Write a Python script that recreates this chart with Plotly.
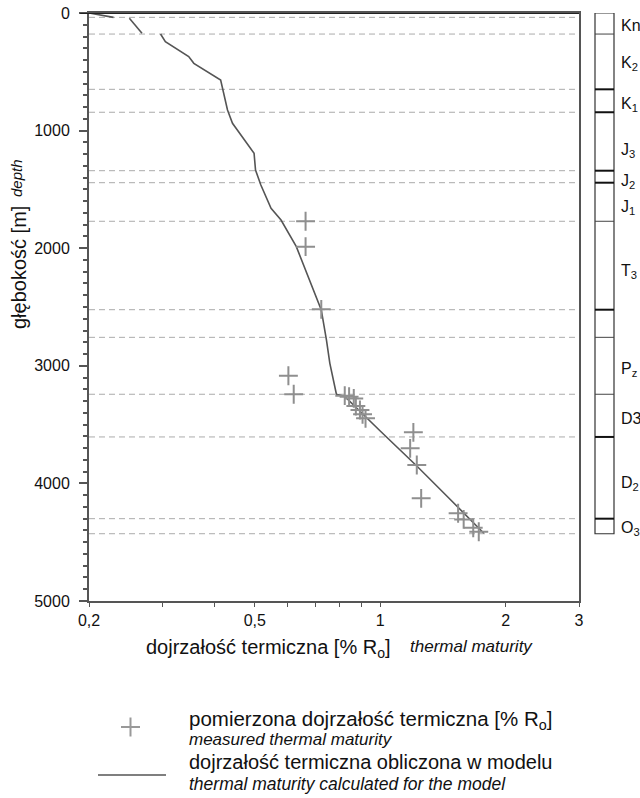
import plotly.graph_objects as go

# ---------------- data ----------------
model_ro = [0.200, 0.229, None, 0.250, 0.268, None, 0.297, 0.305, 0.347, 0.357, 0.414, 0.418,
            0.430, 0.442, 0.498, 0.502, 0.517, 0.547, 0.578, 0.629, 0.716, 0.722, 0.743, 0.757,
            0.785, 0.822, 1.00, 1.224, 1.473, 1.773]
model_depth = [0, 37, None, 45, 173, None, 179, 244, 371, 428, 570, 641, 825, 938, 1193, 1335,
               1463, 1661, 1760, 1987, 2497, 2525, 2781, 2979, 3242, 3260, 3554, 3852, 4137, 4424]

meas_ro = [0.662, 0.662, 0.722, 0.602, 0.620, 0.822, 0.842, 0.864, 0.874, 0.894, 0.907, 0.922,
           1.201, 1.18, 1.224, 1.254, 1.538, 1.586, 1.672, 1.724]
meas_depth = [1771, 1987, 2520, 3084, 3242, 3254, 3263, 3277, 3342, 3376, 3413, 3447,
              3566, 3702, 3844, 4127, 4254, 4306, 4377, 4411]

boundary_depths = [37, 179, 649, 844, 1341, 1443, 1771, 2523, 2758, 3242, 3605, 4300, 4428]

column_top = 0
column_bottom = 4428
column_lines = [179, 649, 844, 1341, 1443, 1771, 2523, 2758, 3242, 3605, 4300]
column_thick = [False, True, True, True, True, False, True, False, False, True, True]

strat_labels = ["Kn", "K<sub>2</sub>", "K<sub>1</sub>", "J<sub>3</sub>", "J<sub>2</sub>",
                "J<sub>1</sub>", "T<sub>3</sub>", "P<sub>z</sub>", "D3", "D<sub>2</sub>",
                "O<sub>3</sub>"]
strat_label_depths = [102, 430, 775, 1165, 1430, 1655, 2195, 3035, 3444, 4005, 4385]

x_tickvals = [0.2, 0.5, 1, 2, 3]
x_ticktext = ["0,2", "0,5", "1", "2", "3"]
x_minor = [0.3, 0.4, 0.6, 0.7, 0.8, 0.9]

# ---------------- layout helpers ----------------
W, H = 640, 798
L, R, T, B = 89, 61, 13, 197
PW, PH = W - L - R, H - T - B


def px(xp):
    return (xp - L) / PW


def py(yp):
    return 1 - (yp - T) / PH


FONT = "Liberation Sans, Arial, sans-serif"

fig = go.Figure()

fig.add_trace(go.Scatter(x=model_ro, y=model_depth, mode="lines",
                         line=dict(color="#555555", width=1.6),
                         connectgaps=False, hoverinfo="skip"))
fig.add_trace(go.Scatter(x=meas_ro, y=meas_depth, mode="markers",
                         marker=dict(symbol="cross-thin", size=13.5,
                                     line=dict(width=2, color="#8f8f8f")),
                         hoverinfo="skip"))

shapes = []
for d in boundary_depths:
    shapes.append(dict(type="line", xref="paper", yref="y", x0=0, x1=1, y0=d, y1=d,
                       line=dict(color="#ababab", width=1, dash="6px,4px"), layer="below"))

# top frame line
shapes.append(dict(type="line", xref="paper", yref="y", x0=-0.018, x1=1, y0=0, y1=0,
                   line=dict(color="#222222", width=2)))

# stratigraphic column
cx0, cx1 = px(595), px(614)
shapes.append(dict(type="rect", xref="paper", yref="y", x0=cx0, x1=cx1,
                   y0=column_top, y1=column_bottom, line=dict(color="#333333", width=1.2)))
for d, thick in zip(column_lines, column_thick):
    shapes.append(dict(type="line", xref="paper", yref="y", x0=cx0, x1=cx1, y0=d, y1=d,
                       line=dict(color="#111111" if thick else "#444444",
                                 width=2 if thick else 1)))

# legend symbols
shapes.append(dict(type="line", xref="paper", yref="paper", x0=px(121), x1=px(140),
                   y0=py(727), y1=py(727), line=dict(color="#999999", width=2)))
shapes.append(dict(type="line", xref="paper", yref="paper", x0=px(130.5), x1=px(130.5),
                   y0=py(717.5), y1=py(736.5), line=dict(color="#999999", width=2)))
shapes.append(dict(type="line", xref="paper", yref="paper", x0=px(98), x1=px(166),
                   y0=py(775), y1=py(775), line=dict(color="#555555", width=1.6)))

annotations = []
for lab, d in zip(strat_labels, strat_label_depths):
    annotations.append(dict(text=lab, xref="paper", yref="y", x=px(619), y=d,
                            xanchor="left", yanchor="middle", showarrow=False,
                            font=dict(family=FONT, size=16, color="#111")))

# axis titles
annotations.append(dict(text="głębokość [m]", xref="paper", yref="paper", x=px(19), y=py(268),
                        textangle=-90, showarrow=False, xanchor="center", yanchor="middle",
                        font=dict(family=FONT, size=20, color="#111")))
annotations.append(dict(text="<i>depth</i>", xref="paper", yref="paper", x=px(17), y=py(178),
                        textangle=-90, showarrow=False, xanchor="center", yanchor="middle",
                        font=dict(family=FONT, size=15, color="#111")))
annotations.append(dict(text="dojrzałość termiczna [% R<sub>o</sub>]", xref="paper", yref="paper",
                        x=px(268), y=py(648), showarrow=False, xanchor="center", yanchor="middle",
                        font=dict(family=FONT, size=20, color="#111")))
annotations.append(dict(text="<i>thermal maturity</i>", xref="paper", yref="paper",
                        x=px(471), y=py(646), showarrow=False, xanchor="center", yanchor="middle",
                        font=dict(family=FONT, size=17, color="#111")))

# legend texts
annotations.append(dict(text="pomierzona dojrzałość termiczna [% R<sub>o</sub>]", xref="paper",
                        yref="paper", x=px(187), y=py(720), showarrow=False, xanchor="left",
                        yanchor="middle", font=dict(family=FONT, size=20.5, color="#111")))
annotations.append(dict(text="<i>measured thermal maturity</i>", xref="paper", yref="paper",
                        x=px(187), y=py(739), showarrow=False, xanchor="left", yanchor="middle",
                        font=dict(family=FONT, size=17, color="#111")))
annotations.append(dict(text="dojrzałość termiczna obliczona w modelu", xref="paper",
                        yref="paper", x=px(187), y=py(762), showarrow=False, xanchor="left",
                        yanchor="middle", font=dict(family=FONT, size=20, color="#111")))
annotations.append(dict(text="<i>thermal maturity calculated for the model</i>", xref="paper",
                        yref="paper", x=px(187), y=py(784), showarrow=False, xanchor="left",
                        yanchor="middle", font=dict(family=FONT, size=17.5, color="#111")))

fig.update_layout(
    width=W, height=H,
    margin=dict(l=L, r=R, t=T, b=B, pad=0, autoexpand=False),
    paper_bgcolor="white", plot_bgcolor="white",
    showlegend=False,
    shapes=shapes, annotations=annotations,
    font=dict(family=FONT, size=16, color="#111"),
    xaxis=dict(type="log", range=[-0.69897, 0.4771], tickvals=x_tickvals, ticktext=x_ticktext,
               ticks="outside", ticklen=4, tickwidth=1.2, tickcolor="#555", automargin=False,
               showgrid=False, zeroline=False, showline=True, linecolor="#555", linewidth=1.5,
               mirror=True, tickfont=dict(family=FONT, size=16, color="#111"),
               minor=dict(tickvals=x_minor, ticks="outside", ticklen=4, tickwidth=1.2,
                          tickcolor="#555", showgrid=False)),
    yaxis=dict(range=[5000, 0], tick0=0, dtick=1000, ticks="outside", ticklen=8, tickwidth=1.5,
               tickcolor="#555", showgrid=False, zeroline=False, showline=True, automargin=False,
               linecolor="#555", linewidth=2, mirror=True, ticklabelstandoff=6,
               tickfont=dict(family=FONT, size=16, color="#111"),
               minor=dict(dtick=100, ticks="outside", ticklen=4, tickwidth=1.5,
                          tickcolor="#555", showgrid=False)),
)

fig.write_html("out.html")
